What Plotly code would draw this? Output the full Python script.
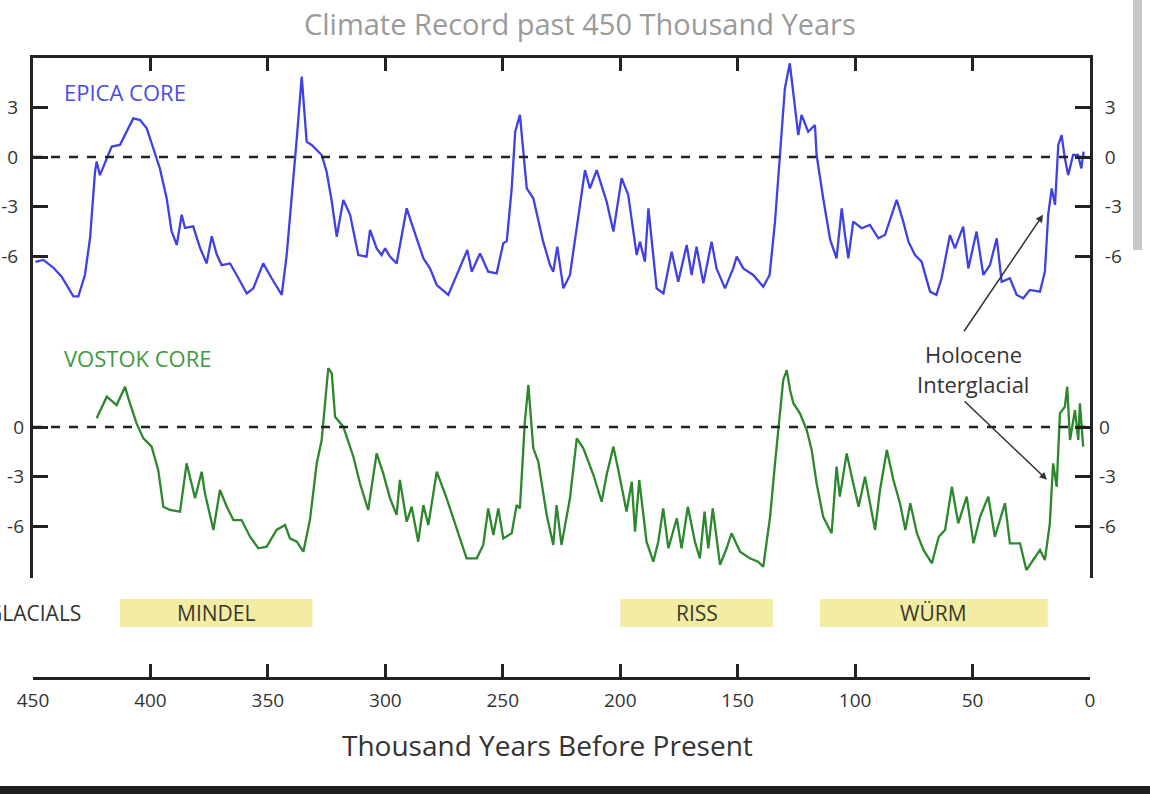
import plotly.graph_objects as go

# ---------------- data ----------------
epica_age = [449.0, 445.6, 441.4, 437.8, 432.8, 430.7, 427.9, 425.7, 423.6, 422.9, 421.5, 419.3, 416.5, 413.0,
             410.1, 407.3, 404.4, 401.6, 398.8, 396.0, 393.1, 391.0, 388.8, 386.7, 385.3, 381.8, 378.9, 376.1,
             373.9, 371.8, 369.7, 366.1, 363.3, 359.0, 356.2, 352.0, 348.4, 344.1, 342.0, 339.2, 337.7, 335.6,
             333.5, 331.4, 327.1, 325.0, 322.8, 320.7, 317.9, 315.0, 311.5, 308.0, 306.5, 303.7, 301.6, 300.1,
             298.0, 295.2, 290.9, 288.1, 283.8, 281.0, 278.1, 273.2, 268.9, 265.1, 263.2, 259.7, 256.2, 252.6,
             249.8, 248.3, 246.2, 244.7, 242.7, 239.8, 237.0, 232.8, 229.9, 228.5, 226.8, 224.2, 221.4, 218.5,
             215.0, 212.9, 210.0, 205.8, 202.9, 199.4, 196.6, 193.0, 191.6, 189.5, 188.0, 184.5, 181.6, 178.1,
             175.3, 171.7, 169.6, 167.5, 164.6, 161.1, 159.0, 155.4, 151.9, 150.4, 147.6, 143.4, 139.1, 136.4,
             134.1, 132.0, 129.9, 127.8, 125.6, 124.2, 122.8, 120.0, 117.1, 116.4, 113.6, 110.6, 107.9, 105.7,
             104.3, 102.9, 100.8, 97.2, 93.7, 90.1, 87.3, 82.3, 79.5, 77.3, 74.5, 71.7, 68.1, 65.4, 63.2, 59.6,
             57.5, 54.0, 51.8, 48.3, 45.4, 42.6, 39.7, 37.6, 34.1, 31.2, 28.4, 25.6, 21.3, 19.2, 17.8, 16.3,
             14.9, 13.5, 12.1, 10.7, 9.3, 7.2, 5.1, 3.7, 2.7]
epica_temp = [-6.35, -6.24, -6.7, -7.25, -8.45, -8.45, -7.15, -4.9, -0.9, -0.28, -1.1, -0.3, 0.63, 0.73,
              1.53, 2.34, 2.24, 1.74, 0.53, -0.69, -2.5, -4.5, -5.33, -3.5, -4.3, -4.2, -5.5, -6.45,
              -4.8, -5.9, -6.55, -6.45, -7.15, -8.27, -7.96, -6.45, -7.35, -8.36, -5.94, -1.5, 1.13, 4.87,
              0.93, 0.73, 0.12, -0.89, -2.7, -4.83, -2.6, -3.5, -5.94, -6.04, -4.42, -5.54, -5.94, -5.54,
              -6.04, -6.45, -3.11, -4.32, -6.14, -6.75, -7.76, -8.36, -6.95, -5.64, -6.95, -5.84, -6.95, -7.05,
              -5.23, -5.1, -1.9, 1.53, 2.55, -1.9, -2.5, -5.13, -6.55, -6.95, -5.43, -7.96, -7.15, -4.32,
              -0.79, -1.9, -0.79, -2.7, -4.52, -1.29, -2.3, -5.94, -5.13, -6.34, -3.11, -7.96, -8.27, -5.74,
              -7.56, -5.33, -7.15, -5.43, -7.66, -5.13, -6.75, -7.96, -6.75, -6.04, -6.75, -7.15, -7.86, -7.15,
              -3.92, 0.12, 4.16, 5.68, 2.95, 1.33, 2.55, 1.53, 1.94, 0.12, -2.5, -5.03, -6.14, -3.11,
              -4.73, -6.14, -3.92, -4.32, -4.12, -4.93, -4.73, -2.6, -3.92, -5.13, -5.94, -6.34, -8.16, -8.36, -7.35, -4.73,
              -5.54, -4.22, -6.75, -4.52, -7.15, -6.55, -4.93, -7.56, -7.35, -8.36, -8.56, -8.06, -8.16, -6.95, -3.5, -1.9,
              -2.9, 0.73, 1.33, -0.08, -1.1, 0.12, 0.12, -0.69, 0.33]

vostok_age = [422.9, 418.6, 414.4, 410.8, 409.4, 405.9, 403.0, 399.5, 396.7, 394.5, 391.7, 387.4, 384.6, 381.0,
              378.2, 376.8, 373.2, 370.4, 367.5, 364.7, 361.2, 357.6, 354.1, 350.5, 346.3, 342.7, 340.6, 337.7,
              334.9, 332.1, 329.2, 327.1, 324.3, 322.8, 321.4, 317.9, 313.6, 310.8, 307.3, 303.7, 300.9, 298.0,
              295.2, 293.8, 290.9, 288.8, 286.0, 283.8, 281.7, 278.1, 273.9, 269.6, 265.4, 261.1, 258.3, 256.2,
              254.0, 251.9, 249.8, 246.2, 244.1, 242.7, 240.6, 239.1, 237.0, 234.9, 231.3, 228.5, 227.1, 225.0,
              221.4, 218.5, 215.7, 211.4, 207.9, 205.8, 202.9, 200.1, 197.3, 195.1, 193.7, 191.9, 188.8, 185.9,
              183.8, 181.7, 179.5, 175.9, 173.9, 171.2, 168.2, 166.1, 164.1, 162.5, 160.6, 157.5, 154.7, 152.6,
              149.0, 144.8, 141.3, 139.1, 137.7, 136.2, 134.1, 132.0, 130.6, 129.1, 127.7, 126.3, 123.5, 120.6,
              118.5, 116.4, 113.6, 110.0, 107.9, 106.5, 103.6, 100.8, 98.5, 95.8, 93.7, 91.5, 89.4, 86.5,
              83.7, 80.9, 78.6, 76.5, 73.7, 70.9, 67.3, 64.4, 61.7, 58.8, 56.1, 52.5, 49.6, 46.8, 43.3, 40.5,
              36.2, 34.1, 29.8, 27.1, 24.2, 21.3, 19.2, 17.1, 15.7, 14.2, 12.8, 10.7, 9.7, 8.5, 6.4, 5.0, 4.3, 2.9]
vostok_temp = [0.53, 1.84, 1.33, 2.44, 1.74, 0.22, -0.69, -1.19, -2.6, -4.83, -5.03, -5.13, -2.2, -4.32,
               -2.71, -4.02, -6.24, -3.82, -4.83, -5.64, -5.64, -6.65, -7.35, -7.25, -6.24, -5.94, -6.75, -6.95,
               -7.56, -5.64, -2.2, -0.79, 3.56, 3.25, 0.62, 0.02, -1.8, -3.41, -5.03, -1.6, -2.81, -4.32,
               -5.33, -3.21, -5.74, -4.83, -6.95, -4.73, -5.94, -2.71, -4.32, -6.14, -7.96, -7.96, -7.15, -4.93,
               -6.55, -4.93, -6.75, -6.44, -4.73, -4.93, 0.32, 2.55, -1.29, -2.1, -5.33, -7.15, -4.73, -7.15,
               -4.32, -0.69, -1.29, -2.91, -4.53, -2.91, -1.19, -3.11, -5.13, -3.31, -6.34, -3.21, -6.95, -8.16,
               -6.95, -4.93, -7.35, -5.53, -7.35, -4.83, -6.95, -7.96, -5.13, -7.35, -4.93, -8.36, -7.35, -6.44,
               -7.56, -7.96, -8.16, -8.47, -7.05, -5.44, -2.2, 0.62, 2.85, 3.45, 2.24, 1.44, 0.83, -0.18,
               -1.39, -3.41, -5.44, -6.44, -2.4, -4.22, -1.6, -3.41, -4.83, -3.01, -4.62, -6.24, -3.82, -1.39,
               -3.21, -4.62, -6.24, -4.62, -6.44, -7.45, -8.26, -6.65, -6.24, -3.62, -5.84, -4.22, -7.05, -5.44, -4.22, -6.65,
               -4.62, -7.05, -7.05, -8.67, -8.06, -7.45, -8.06, -5.84, -2.2, -3.62, 0.83, 1.23, 2.44, -0.79, 1.03, -0.79, 1.44, -1.19]

glacial_names = ["MINDEL", "RISS", "WÜRM"]
glacial_start = [413, 200, 115]
glacial_end = [331, 135, 18]

x_tickvals = [450, 400, 350, 300, 250, 200, 150, 100, 50, 0]
x_ticktext = ["450", "400", "350", "300", "250", "200", "150", "100", "50", "0"]
epica_tickvals = [3, 0, -3, -6]
epica_ticktext = ["3", "0", "-3", "-6"]
vostok_tickvals = [0, -3, -6]
vostok_ticktext = ["0", "-3", "-6"]

# ---------------- layout helpers ----------------
W, H = 1150, 794
FONT = "Open Sans, Lato, sans-serif"
DARK = "#222222"
TXT = "#333333"


def px(xp):
    return xp / W


def py(yp):
    return 1 - yp / H


BOX_L, BOX_R, BOX_T, BOX_B = 33, 1090, 58, 578
PX_PER_DEG = 16.5
EPICA_ZERO, VOSTOK_ZERO = 157, 427
epica_range = [(EPICA_ZERO - BOX_B) / PX_PER_DEG, (EPICA_ZERO - BOX_T) / PX_PER_DEG]
vostok_range = [(VOSTOK_ZERO - BOX_B) / PX_PER_DEG, (VOSTOK_ZERO - BOX_T) / PX_PER_DEG]

fig = go.Figure()
fig.add_trace(go.Scatter(x=epica_age, y=epica_temp, mode="lines", xaxis="x", yaxis="y",
                         line=dict(color="#4040e4", width=2.3), showlegend=False, hoverinfo="skip"))
fig.add_trace(go.Scatter(x=vostok_age, y=vostok_temp, mode="lines", xaxis="x", yaxis="y2",
                         line=dict(color="#2d872d", width=2.3), showlegend=False, hoverinfo="skip"))
# empty helper traces so the frame axes (top ticks, right labels, end ticks) get drawn
for xa, ya in [("x2", "y"), ("x3", "y"), ("x", "y3"), ("x", "y4")]:
    fig.add_trace(go.Scatter(x=[], y=[], xaxis=xa, yaxis=ya, mode="lines", showlegend=False,
                             hoverinfo="skip"))

tickfont = dict(family=FONT, size=19, color=TXT)
ydomain = [py(BOX_B), py(BOX_T)]
common_y = dict(ticks="inside", ticklen=15, tickwidth=3, tickcolor=DARK, showgrid=False,
                zeroline=False, tickfont=tickfont, ticklabelstandoff=8, fixedrange=True,
                automargin=False)
common_x = dict(showgrid=False, zeroline=False, automargin=False, fixedrange=True)

fig.update_layout(
    width=W, height=H,
    margin=dict(l=0, r=0, t=0, b=0, pad=0, autoexpand=False),
    paper_bgcolor="white", plot_bgcolor="white",
    xaxis=dict(domain=[px(BOX_L), px(BOX_R)], range=[450, 0], anchor="free", position=py(678),
               showline=True, linecolor=DARK, linewidth=3, ticks="inside", ticklen=13, tickwidth=3,
               tickcolor=DARK, tickvals=x_tickvals, ticktext=x_ticktext,
               tickfont=dict(family=FONT, size=19, color=TXT), ticklabelstandoff=4, **common_x),
    xaxis2=dict(overlaying="x", side="top", anchor="y", range=[450, 0], showline=True, linecolor=DARK,
                linewidth=3, ticks="inside", ticklen=13, tickwidth=3, tickcolor=DARK,
                tickvals=x_tickvals[1:-1], showticklabels=False, **common_x),
    xaxis3=dict(overlaying="x", anchor="free", position=py(678), range=[450, 0], showline=False,
                ticks="inside", ticklen=25, tickwidth=3, tickcolor=DARK, tickvals=[450, 0],
                showticklabels=False, **common_x),
    yaxis=dict(domain=ydomain, anchor="x", range=epica_range, showline=True, linecolor=DARK, linewidth=3,
               tickvals=epica_tickvals, ticktext=epica_ticktext, **common_y),
    yaxis2=dict(overlaying="y", anchor="x", side="left", range=vostok_range, showline=False,
                tickvals=vostok_tickvals, ticktext=vostok_ticktext, **common_y),
    yaxis3=dict(overlaying="y", anchor="x", side="right", range=epica_range, showline=True, linecolor=DARK,
                linewidth=3, tickvals=epica_tickvals, ticktext=epica_ticktext, **common_y),
    yaxis4=dict(overlaying="y", anchor="x", side="right", range=vostok_range, showline=False,
                tickvals=vostok_tickvals, ticktext=vostok_ticktext, **common_y),
)

shapes = []
# dashed zero lines
for yr in ["y", "y2"]:
    shapes.append(dict(type="line", xref="x domain", yref=yr, x0=0, x1=1, y0=0, y1=0,
                       line=dict(color=DARK, width=2.5, dash="dash")))
# glacial bars
for s, e in zip(glacial_start, glacial_end):
    shapes.append(dict(type="rect", xref="x", yref="paper", x0=s, x1=e, y0=py(627), y1=py(599),
                       fillcolor="#f3eca4", line=dict(width=0), layer="below"))
# page chrome: scrollbar and bottom bar
shapes.append(dict(type="rect", xref="paper", yref="paper", x0=px(1133), x1=px(1142), y0=py(250), y1=1,
                   fillcolor="#c8c8c8", line=dict(width=0)))
shapes.append(dict(type="rect", xref="paper", yref="paper", x0=0, x1=1, y0=0, y1=py(786),
                   fillcolor="#1f1f1f", line=dict(width=0)))
fig.update_layout(shapes=shapes)


def label(text, xp, yp, size, color, xanchor="center"):
    return dict(text=text, xref="paper", yref="paper", x=px(xp), y=py(yp), xanchor=xanchor,
                yanchor="middle", showarrow=False, font=dict(family=FONT, size=size, color=color))


ann = [
    label("Climate Record past 450 Thousand Years", 580, 23, 29, "#9a9a9a"),
    label("Thousand Years Before Present", 547, 745, 28, TXT),
    label("EPICA CORE", 62, 92, 22, "#4a4ae8", "left"),
    label("VOSTOK CORE", 62, 358, 22, "#3c9a3c", "left"),
    label("GLACIALS", 83, 613, 21, TXT, "right"),
    label("Holocene", 973, 354, 22, TXT),
    label("Interglacial", 973, 384, 22, TXT),
]
for n, s, e in zip(glacial_names, glacial_start, glacial_end):
    ann.append(dict(text=n, xref="x", yref="paper", x=(s + e) / 2, y=py(613), xanchor="center",
                    yanchor="middle", showarrow=False, font=dict(family=FONT, size=21, color="#3a3a2a")))
# arrows to the Holocene rise on both records
ann.append(dict(text="", xref="x", yref="y", x=20.0, y=-3.5, ax=-80, ay=118, showarrow=True,
                arrowhead=2, arrowsize=1, arrowwidth=1.5, arrowcolor=TXT))
ann.append(dict(text="", xref="x", yref="y2", x=18.3, y=-3.2, ax=-84, ay=-80, showarrow=True,
                arrowhead=2, arrowsize=1, arrowwidth=1.5, arrowcolor=TXT))
fig.update_layout(annotations=ann)

fig.write_html("out.html", config={"displayModeBar": False},
               post_script="document.body.style.margin='0';")
